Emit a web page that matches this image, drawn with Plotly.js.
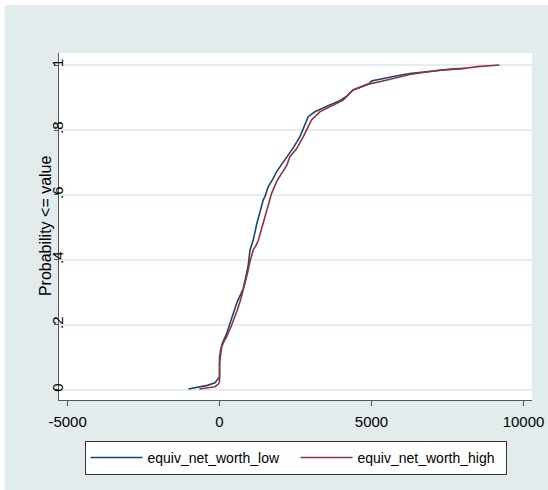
<!DOCTYPE html>
<html>
<head>
<meta charset="utf-8">
<script src="https://cdn.plot.ly/plotly-3.0.1.min.js"></script>
<style>
  html, body { margin: 0; padding: 0; background: #ffffff; }
  #chart { width: 548px; height: 490px; }
</style>
</head>
<body>
<div id="chart"></div>
<script>
const lowNetWorth = [-1024, -700, -400, -150, -40, 0, 0, 40, 100, 236, 345, 450, 584, 700, 781, 880,
    946, 1001, 1110, 1221, 1330, 1438, 1494, 1600, 1767, 1878, 2050, 2206, 2423, 2643, 2800, 2917,
    3135, 3400, 3628, 3956, 4200, 4394, 4700, 4941, 4996, 5377, 5800, 6255, 6700, 7240, 7700, 8130];
const lowProb = [0.003, 0.008, 0.014, 0.022, 0.036, 0.04, 0.10, 0.125, 0.145, 0.174, 0.205, 0.235, 0.272, 0.295, 0.313, 0.355,
    0.385, 0.43, 0.462, 0.51, 0.55, 0.585, 0.595, 0.625, 0.651, 0.672, 0.695, 0.716, 0.745, 0.779, 0.815, 0.841,
    0.856, 0.868, 0.877, 0.89, 0.905, 0.923, 0.935, 0.944, 0.951, 0.959, 0.966, 0.974, 0.979, 0.985, 0.988, 0.99];

const highNetWorth = [-663, -400, -150, -40, 0, 0, 72, 150, 236, 400, 490, 584, 700, 837, 920, 1001,
    1110, 1200, 1274, 1385, 1450, 1549, 1713, 1850, 1931, 2100, 2206, 2315, 2534, 2752, 2900, 3026,
    3299, 3500, 3737, 4065, 4394, 4700, 4941, 5377, 5926, 6255, 6700, 7240, 7897, 8497, 9207];
const highProb = [0.003, 0.006, 0.01, 0.018, 0.025, 0.083, 0.133, 0.15, 0.164, 0.2, 0.222, 0.246, 0.28, 0.328, 0.36, 0.395,
    0.431, 0.445, 0.46, 0.497, 0.52, 0.555, 0.605, 0.635, 0.65, 0.675, 0.69, 0.718, 0.742, 0.779, 0.805, 0.831,
    0.856, 0.866, 0.877, 0.892, 0.923, 0.935, 0.942, 0.951, 0.964, 0.971, 0.977, 0.984, 0.988, 0.995, 1.0];

const xTicks = [-5000, 0, 5000, 10000];
const yTicks = [0, 0.2, 0.4, 0.6, 0.8, 1];
const yTickText = ['0', '.2', '.4', '.6', '.8', '1'];

const FONT = 'Liberation Sans, Arial, sans-serif';

const traces = [
    {
        x: lowNetWorth, y: lowProb,
        type: 'scatter', mode: 'lines',
        name: 'equiv_net_worth_low',
        line: { color: '#1a476f', width: 1.6 }
    },
    {
        x: highNetWorth, y: highProb,
        type: 'scatter', mode: 'lines',
        name: 'equiv_net_worth_high',
        line: { color: '#90353b', width: 1.6 }
    }
];

const layout = {
    width: 548,
    height: 490,
    paper_bgcolor: '#e2ecec',
    plot_bgcolor: '#ffffff',
    margin: { l: 59, r: 16, t: 53, b: 90 },
    font: { family: FONT, size: 14, color: '#000000' },
    xaxis: {
        range: [-5282, 10280],
        tickvals: xTicks,
        ticktext: xTicks.map(String),
        ticks: 'outside',
        ticklen: 5,
        tickcolor: '#555555',
        ticklabelstandoff: 3,
        showgrid: false,
        zeroline: false,
        showline: true,
        linecolor: '#555555',
        linewidth: 1,
        tickfont: { family: FONT, size: 15 }
    },
    yaxis: {
        range: [-0.031, 1.037],
        tickvals: yTicks,
        ticktext: yTickText,
        tickangle: -90,
        ticks: 'outside',
        ticklen: 4,
        tickcolor: '#555555',
        ticklabelstandoff: -15,
        showgrid: true,
        gridcolor: '#e4eeee',
        gridwidth: 1.5,
        zeroline: false,
        showline: true,
        linecolor: '#555555',
        linewidth: 1,
        tickfont: { family: FONT, size: 15 }
    },
    annotations: [
        {
            text: 'Probability <= value',
            xref: 'paper', yref: 'paper',
            x: -0.0296, y: 0.504,
            xanchor: 'center', yanchor: 'middle',
            textangle: -90,
            showarrow: false,
            font: { family: FONT, size: 16 }
        }
    ],
    showlegend: true,
    legend: {
        orientation: 'h',
        x: 0.5, xanchor: 'center',
        y: -0.118, yanchor: 'top',
        bgcolor: '#ffffff',
        bordercolor: '#333333',
        borderwidth: 1,
        itemwidth: 52,
        entrywidth: 143,
        font: { family: FONT, size: 14 }
    },
    shapes: [
        // thin white frame at the left and top edges
        { type: 'rect', xref: 'paper', yref: 'paper', x0: -0.2, x1: -0.115, y0: -1, y1: 2,
          fillcolor: '#ffffff', line: { width: 0 }, layer: 'below' },
        { type: 'rect', xref: 'paper', yref: 'paper', x0: -0.2, x1: 1.2, y0: 1.138, y1: 2,
          fillcolor: '#ffffff', line: { width: 0 }, layer: 'below' }
    ]
};

Plotly.newPlot('chart', traces, layout, { displayModeBar: false, staticPlot: true });
</script>
</body>
</html>
